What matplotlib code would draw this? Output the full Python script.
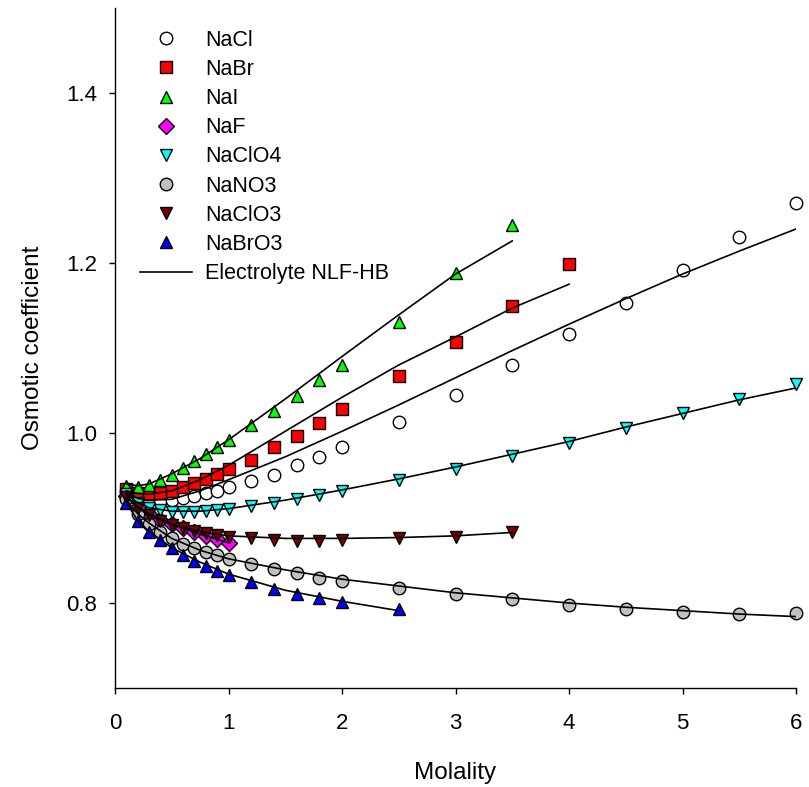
import matplotlib
matplotlib.use("Agg")
import matplotlib.pyplot as plt
from matplotlib.lines import Line2D

plt.rcParams["font.family"] = ["Liberation Sans", "DejaVu Sans"]

# --- donnees experimentales (molalite, coefficient osmotique) ---
m_full = [0.1, 0.2, 0.3, 0.4, 0.5, 0.6, 0.7, 0.8, 0.9, 1.0, 1.2, 1.4, 1.6, 1.8, 2.0,
          2.5, 3.0, 3.5, 4.0, 4.5, 5.0, 5.5, 6.0]

nacl = [0.932, 0.925, 0.922, 0.920, 0.921, 0.923, 0.926, 0.929, 0.932, 0.936, 0.943,
        0.951, 0.962, 0.972, 0.983, 1.013, 1.045, 1.080, 1.116, 1.153, 1.192, 1.231, 1.271]
nabr = [0.934, 0.929, 0.928, 0.929, 0.932, 0.936, 0.941, 0.946, 0.952, 0.958, 0.968,
        0.983, 0.997, 1.012, 1.028, 1.067, 1.107, 1.149, 1.199]
nai = [0.938, 0.936, 0.939, 0.945, 0.951, 0.959, 0.967, 0.975, 0.983, 0.992, 1.009,
       1.026, 1.044, 1.062, 1.080, 1.131, 1.188, 1.245]
naf = [0.926, 0.913, 0.905, 0.898, 0.893, 0.888, 0.883, 0.879, 0.875, 0.871]
naclo4 = [0.928, 0.918, 0.912, 0.909, 0.907, 0.907, 0.907, 0.908, 0.909, 0.911, 0.914,
          0.918, 0.922, 0.927, 0.932, 0.945, 0.958, 0.973, 0.988, 1.006, 1.024, 1.040, 1.058]
nano3 = [0.922, 0.905, 0.893, 0.884, 0.876, 0.870, 0.865, 0.860, 0.856, 0.852, 0.846,
         0.840, 0.835, 0.830, 0.826, 0.818, 0.811, 0.805, 0.798, 0.793, 0.789, 0.787, 0.788]
naclo3 = [0.925, 0.912, 0.903, 0.897, 0.892, 0.888, 0.885, 0.882, 0.880, 0.878, 0.876,
          0.874, 0.873, 0.873, 0.874, 0.876, 0.878, 0.884]
nabro3 = [0.918, 0.897, 0.884, 0.874, 0.865, 0.857, 0.849, 0.843, 0.838, 0.833, 0.825,
          0.816, 0.811, 0.806, 0.801, 0.793]

# --- modele Electrolyte NLF-HB ---
m_mod = [0.1, 0.2, 0.3, 0.5, 0.75, 1.0, 1.5, 2.0, 2.5, 3.0, 3.5, 4.0, 4.5, 5.0, 5.5, 6.0]

mod_nacl = [0.930, 0.923, 0.921, 0.922, 0.932, 0.945, 0.972, 1.002, 1.033, 1.065,
            1.097, 1.128, 1.158, 1.187, 1.214, 1.240]
mod_nabr = [0.932, 0.929, 0.928, 0.932, 0.945, 0.962, 1.002, 1.042, 1.080, 1.113,
            1.147, 1.175]
mod_nai = [0.940, 0.938, 0.940, 0.952, 0.970, 0.992, 1.040, 1.090, 1.139, 1.187, 1.226]
mod_naf = [0.926, 0.913, 0.905, 0.893, 0.881, 0.871]
mod_naclo4 = [0.928, 0.918, 0.912, 0.908, 0.908, 0.911, 0.921, 0.933, 0.946, 0.960,
              0.975, 0.990, 1.007, 1.023, 1.039, 1.053]
mod_nano3 = [0.920, 0.905, 0.894, 0.876, 0.862, 0.852, 0.839, 0.828, 0.820, 0.812,
             0.806, 0.800, 0.795, 0.791, 0.787, 0.784]
mod_naclo3 = [0.925, 0.912, 0.903, 0.892, 0.884, 0.879, 0.876, 0.876, 0.877, 0.879, 0.883]
mod_nabro3 = [0.918, 0.897, 0.884, 0.865, 0.848, 0.834, 0.815, 0.802, 0.791]

series = [
    ("NaCl", nacl, mod_nacl, "o", "white"),
    ("NaBr", nabr, mod_nabr, "s", "#ff0000"),
    ("NaI", nai, mod_nai, "^", "#00ff00"),
    ("NaF", naf, mod_naf, "D", "#ff00ff"),
    ("NaClO4", naclo4, mod_naclo4, "v", "#00ffff"),
    ("NaNO3", nano3, mod_nano3, "o", "#c0c0c0"),
    ("NaClO3", naclo3, mod_naclo3, "v", "#800000"),
    ("NaBrO3", nabro3, mod_nabro3, "^", "#0000ff"),
]

fig = plt.figure(figsize=(8.09, 7.87), dpi=100)
ax = fig.add_axes([115 / 809, 1 - 688 / 787, 681 / 809, 680 / 787])

handles = []
for nom, y, ymod, mk, coul in series:
    taille = 8 if mk == "D" else 9
    ax.plot(m_full[:len(y)], y, linestyle="none", marker=mk, markersize=taille,
            markerfacecolor=coul, markeredgecolor="black", markeredgewidth=1.0,
            zorder=3, clip_on=False)
    ax.plot(m_mod[:len(ymod)], ymod, color="black", linewidth=1.2, zorder=4)
    handles.append(Line2D([], [], linestyle="none", marker=mk, markersize=taille,
                          markerfacecolor=coul, markeredgecolor="black",
                          markeredgewidth=1.0, label=nom))
handles.append(Line2D([], [], color="black", linewidth=1.2, label="Electrolyte NLF-HB"))

ax.legend(handles=handles, loc="upper left", bbox_to_anchor=(0.037, 0.968),
          frameon=False, fontsize=15.5, handlelength=2.4, handletextpad=0.6,
          labelspacing=0.38, borderpad=0, borderaxespad=0)

ax.set_xlim(0, 6)
ax.set_ylim(0.7, 1.5)
ax.set_xticks([0, 1, 2, 3, 4, 5, 6])
ax.set_yticks([0.8, 1.0, 1.2, 1.4])
ax.set_yticklabels(["0.8", "1.0", "1.2", "1.4"])
ax.tick_params(direction="out", length=4, width=1, labelsize=16, pad=9)
ax.tick_params(axis="x", pad=14)
for cote in ["top", "right"]:
    ax.spines[cote].set_visible(False)
for cote in ["left", "bottom"]:
    ax.spines[cote].set_linewidth(1.0)

ax.set_xlabel("Molality", fontsize=17.5, labelpad=20)
ax.set_ylabel("Osmotic coefficient", fontsize=17.5, labelpad=16)

fig.savefig("out.png", dpi=100)
